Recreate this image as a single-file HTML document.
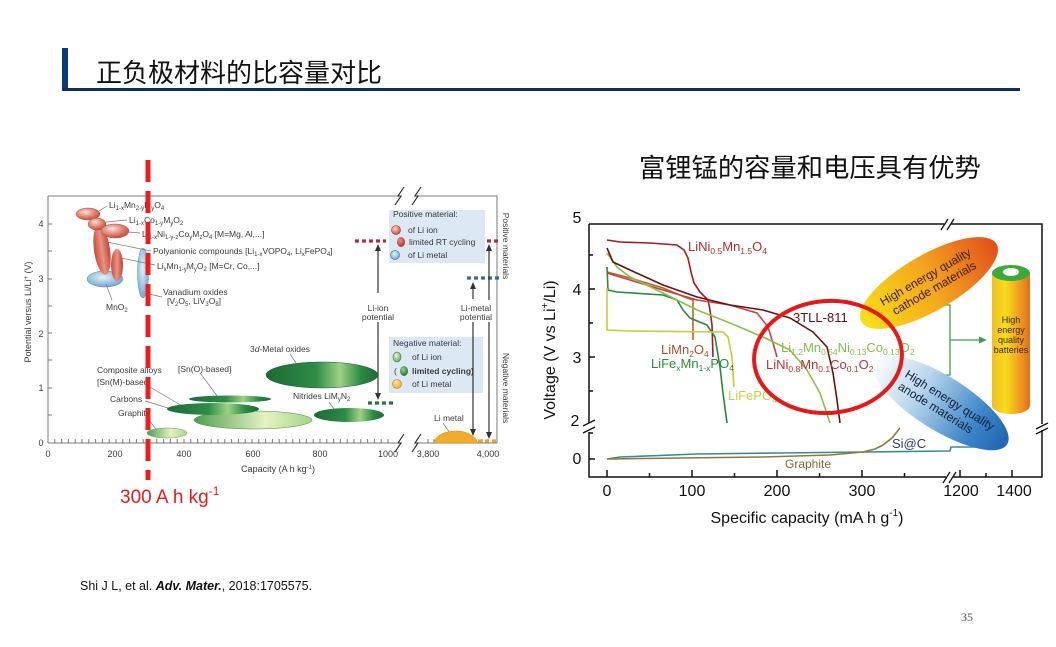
<!DOCTYPE html>
<html><head><meta charset="utf-8">
<style>
html,body{margin:0;padding:0;background:#fff;}
svg{display:block;}
.lt{font-size:8.5px;fill:#3a3a3a;}
.s{font-size:6px;}
.S{font-size:8.5px;}
.cj{font-family:"Liberation Sans","Noto Sans CJK SC",sans-serif;}
</style></head>
<body>
<svg width="1056" height="647" viewBox="0 0 1056 647" xmlns="http://www.w3.org/2000/svg" font-family="Liberation Sans, sans-serif">
<defs>
<radialGradient id="gR" cx="0.4" cy="0.35" r="0.7"><stop offset="0" stop-color="#fbe3dc"/><stop offset="0.5" stop-color="#e58a78"/><stop offset="1" stop-color="#c0443a"/></radialGradient>
<linearGradient id="gRt" x1="0" x2="1"><stop offset="0" stop-color="#c84a3e"/><stop offset="0.5" stop-color="#ea937f"/><stop offset="1" stop-color="#c0443a"/></linearGradient>
<radialGradient id="gB" cx="0.45" cy="0.4" r="0.7"><stop offset="0" stop-color="#e6f3fb"/><stop offset="1" stop-color="#5d9ccb"/></radialGradient>
<linearGradient id="gG" x1="0" x2="1"><stop offset="0" stop-color="#1c6b35"/><stop offset="0.45" stop-color="#2e8c48"/><stop offset="0.66" stop-color="#9fd185"/><stop offset="0.85" stop-color="#2a8a44"/><stop offset="1" stop-color="#1c6b35"/></linearGradient>
<linearGradient id="gL" x1="0" x2="1"><stop offset="0" stop-color="#4d9e50"/><stop offset="0.6" stop-color="#e4f2c0"/><stop offset="1" stop-color="#a8d48a"/></linearGradient>
<linearGradient id="gC" x1="0" x2="1"><stop offset="0" stop-color="#f8e016"/><stop offset="0.5" stop-color="#f4a81e"/><stop offset="1" stop-color="#e2501c"/></linearGradient>
<linearGradient id="gA" x1="0" x2="1"><stop offset="0" stop-color="#ffffff"/><stop offset="0.35" stop-color="#b8d4ec"/><stop offset="0.75" stop-color="#3d86c8"/><stop offset="1" stop-color="#1d66b0"/></linearGradient>
<linearGradient id="gBat" x1="0" x2="1"><stop offset="0" stop-color="#f0c020"/><stop offset="0.35" stop-color="#f8dc1c"/><stop offset="0.7" stop-color="#f0a020"/><stop offset="1" stop-color="#e0701c"/></linearGradient>
<radialGradient id="gO" cx="0.4" cy="0.35" r="0.7"><stop offset="0" stop-color="#fde6a0"/><stop offset="1" stop-color="#f0a428"/></radialGradient>
<radialGradient id="gGL" cx="0.4" cy="0.35" r="0.7"><stop offset="0" stop-color="#eef8d8"/><stop offset="1" stop-color="#5aa84a"/></radialGradient>
<radialGradient id="gGD" cx="0.4" cy="0.35" r="0.7"><stop offset="0" stop-color="#9fd185"/><stop offset="1" stop-color="#1c6b35"/></radialGradient>
<radialGradient id="gRD" cx="0.4" cy="0.35" r="0.7"><stop offset="0" stop-color="#f08a7a"/><stop offset="1" stop-color="#b82a22"/></radialGradient>
</defs>

<!-- Header -->
<rect x="62" y="48" width="6" height="43" fill="#0e3a73"/>
<rect x="62" y="88" width="958" height="3" fill="#0e2f60"/>
<text x="96" y="82" font-size="26" class="cj" fill="#111">正负极材料的比容量对比</text>
<text x="639" y="177" font-size="26.3" class="cj" fill="#111">富锂锰的容量和电压具有优势</text>

<!-- ================= LEFT CHART ================= -->
<g stroke="#7a7a7a" fill="none" stroke-width="1">
<path d="M48,196 V443 M48,196 H398 M418,196 H497 V443 M48,443 H397 M419,443 H497"/>
<path d="M48,443v-4m6.8,4v-4m6.8,4v-4m6.8,4v-4m6.8,4v-4m6.8,4v-4m6.8,4v-4m6.8,4v-4m6.8,4v-4m6.8,4v-4m6.8,4v-4m6.8,4v-4m6.8,4v-4m6.8,4v-4m6.8,4v-4m6.8,4v-4m6.8,4v-4m6.8,4v-4m6.8,4v-4m6.8,4v-4m6.8,4v-4m6.8,4v-4m6.8,4v-4m6.8,4v-4m6.8,4v-4m6.8,4v-4m6.8,4v-4m6.8,4v-4m6.8,4v-4m6.8,4v-4m6.8,4v-4m6.8,4v-4m6.8,4v-4m6.8,4v-4m6.8,4v-4m6.8,4v-4m6.8,4v-4m6.8,4v-4m6.8,4v-4m6.8,4v-4m6.8,4v-4m6.8,4v-4m6.8,4v-4m6.8,4v-4m6.8,4v-4m6.8,4v-4m6.8,4v-4m6.8,4v-4m6.8,4v-4m6.8,4v-4m6.8,4v-4"/>
<path d="M428,443v-4m6,4v-4m6,4v-4m6,4v-4m6,4v-4m6,4v-4m6,4v-4m6,4v-4m6,4v-4m6,4v-4m6,4v-4"/>
<path d="M48,415h4M48,388h4M48,360h4M48,333h4M48,306h4M48,279h4M48,251h4M48,224h4"/>
</g>
<!-- breaks -->
<g stroke="#222" fill="none" stroke-width="1.1">
<path d="M395,205 L401,196 L398,196 L404,187"/>
<path d="M412,205 L418,196 L415,196 L421,187"/>
<path d="M395,452 L401,443 L398,443 L404,434"/>
<path d="M412,452 L418,443 L415,443 L421,434"/>
</g>
<!-- axis labels -->
<g class="lt" font-size="9" text-anchor="middle" fill="#333">
<text x="41" y="227" style="font-size:9px">4</text>
<text x="41" y="282" style="font-size:9px">3</text>
<text x="41" y="337" style="font-size:9px">2</text>
<text x="41" y="391" style="font-size:9px">1</text>
<text x="41" y="446" style="font-size:9px">0</text>
<text x="48" y="457" style="font-size:9px">0</text>
<text x="115" y="457" style="font-size:9px">200</text>
<text x="184" y="457" style="font-size:9px">400</text>
<text x="253" y="457" style="font-size:9px">600</text>
<text x="320" y="457" style="font-size:9px">800</text>
<text x="388" y="457" style="font-size:9px">1000</text>
<text x="428" y="457" style="font-size:9px">3,800</text>
<text x="488" y="457" style="font-size:9px">4,000</text>
<text x="278" y="472" style="font-size:9px">Capacity  (A h kg<tspan class="s" dy="-3">-1</tspan><tspan dy="3">)</tspan></text>
<text transform="translate(31,312) rotate(-90)" style="font-size:9px">Potential versus Li/Li<tspan class="s" dy="-3">+</tspan><tspan dy="3"> (V)</tspan></text>
<text transform="translate(503,246) rotate(90)" style="font-size:8.5px">Positive materials</text>
<text transform="translate(503,388) rotate(90)" style="font-size:8.5px">Negative materials</text>
</g>

<!-- boxes -->
<rect x="389" y="210" width="96" height="53" fill="#dce8f4"/>
<rect x="389" y="337" width="94" height="56" fill="#dce8f4"/>
<g class="lt">
<text x="393" y="217">Positive material:</text>
<text x="408" y="233">of Li ion</text>
<text x="409" y="245">limited RT cycling</text>
<text x="408" y="258">of Li metal</text>
<text x="393" y="346">Negative material:</text>
<text x="412" y="360">of Li ion</text>
<text x="394" y="374">(</text>
<text x="412" y="374" font-weight="bold">limited cycling)</text>
<text x="412" y="387">of Li metal</text>
</g>
<circle cx="396" cy="230" r="4.5" fill="url(#gR)" stroke="#a03020" stroke-width="0.6"/>
<ellipse cx="401" cy="242" rx="4" ry="5" fill="url(#gRD)"/>
<circle cx="395" cy="255" r="4.5" fill="url(#gB)" stroke="#3a6a9a" stroke-width="0.6"/>
<ellipse cx="397" cy="357" rx="4" ry="5" fill="url(#gGL)" stroke="#3a7a3a" stroke-width="0.6"/>
<ellipse cx="404" cy="371" rx="4" ry="5" fill="url(#gGD)"/>
<circle cx="397" cy="384" r="4.5" fill="url(#gO)" stroke="#c08020" stroke-width="0.6"/>

<!-- dotted potentials -->
<g stroke-width="3.2" stroke-dasharray="4,3" fill="none">
<path d="M355,241 H386" stroke="#b0303a"/>
<path d="M487,241 H500" stroke="#b0303a"/>
<path d="M467,278 H499" stroke="#3a6a8a"/>
<path d="M368,403 H396" stroke="#1f7a3a"/>
<path d="M478,441 H497" stroke="#f0a030"/>
</g>
<!-- arrows -->
<g stroke="#333" stroke-width="1.2" fill="none">
<path d="M378,293 V249"/><path d="M378,322 V395"/>
<path d="M473,299 V287"/><path d="M473,322 V431"/>
<path d="M489,300 V249"/><path d="M489,322 V434"/>
</g>
<g fill="#333">
<path d="M378,244 l-3,7 h6 z"/><path d="M378,400 l-3,-7 h6 z"/>
<path d="M473,282 l-3,7 h6 z"/><path d="M473,436 l-3,-7 h6 z"/>
<path d="M489,244 l-3,7 h6 z"/><path d="M489,439 l-3,-7 h6 z"/>
</g>
<g class="lt" text-anchor="middle">
<text x="378" y="311">Li-ion</text><text x="378" y="320">potential</text>
<text x="476" y="311">Li-metal</text><text x="476" y="320">potential</text>
</g>

<!-- positive materials ellipses -->
<ellipse cx="105" cy="279" rx="18" ry="8" fill="url(#gB)" stroke="#5a8ab0" stroke-width="0.5"/>
<ellipse cx="102" cy="250" rx="8" ry="25" transform="rotate(-8 102 250)" fill="url(#gRt)"/>
<ellipse cx="117" cy="265" rx="6" ry="16" fill="url(#gRt)"/>
<ellipse cx="143" cy="273" rx="5.5" ry="25" fill="url(#gB)" stroke="#5a8ab0" stroke-width="0.5"/>
<ellipse cx="88" cy="214" rx="12" ry="6" fill="url(#gR)" stroke="#b05040" stroke-width="0.5"/>
<ellipse cx="97" cy="224" rx="9" ry="6" fill="url(#gR)" stroke="#b05040" stroke-width="0.5"/>
<ellipse cx="115" cy="231" rx="14" ry="7" fill="url(#gR)" stroke="#b05040" stroke-width="0.5"/>
<g stroke="#777" stroke-width="0.7" fill="none">
<path d="M99,211 L107,206"/><path d="M106,222 L127,220"/><path d="M128,232 L140,233"/>
<path d="M107,242 L151,251"/><path d="M121,258 L155,265"/><path d="M145,293 L162,297"/>
<path d="M106,284 L112,300"/>
<path d="M290,354 L296,363"/><path d="M200,373 L218,397"/><path d="M148,386 L196,414"/>
<path d="M145,401 L168,408"/><path d="M146,416 L158,432"/><path d="M329,402 L334,409"/>
<path d="M443,423 L452,436"/>
</g>
<g class="lt">
<text x="109" y="208">Li<tspan class="s" dy="2">1-x</tspan><tspan dy="-2">Mn</tspan><tspan class="s" dy="2">2-y</tspan><tspan dy="-2">M</tspan><tspan class="s" dy="2">y</tspan><tspan dy="-2">O</tspan><tspan class="s" dy="2">4</tspan></text>
<text x="129" y="223">Li<tspan class="s" dy="2">1-x</tspan><tspan dy="-2">Co</tspan><tspan class="s" dy="2">1-y</tspan><tspan dy="-2">M</tspan><tspan class="s" dy="2">y</tspan><tspan dy="-2">O</tspan><tspan class="s" dy="2">2</tspan></text>
<text x="142" y="237">Li<tspan class="s" dy="2">1-x</tspan><tspan dy="-2">Ni</tspan><tspan class="s" dy="2">1-y-z</tspan><tspan dy="-2">Co</tspan><tspan class="s" dy="2">y</tspan><tspan dy="-2">M</tspan><tspan class="s" dy="2">z</tspan><tspan dy="-2">O</tspan><tspan class="s" dy="2">4</tspan><tspan dy="-2"> [M=Mg, Al,...]</tspan></text>
<text x="153" y="254">Polyanionic compounds [Li<tspan class="s" dy="2">1-x</tspan><tspan dy="-2">VOPO</tspan><tspan class="s" dy="2">4</tspan><tspan dy="-2">, Li</tspan><tspan class="s" dy="2">x</tspan><tspan dy="-2">FePO</tspan><tspan class="s" dy="2">4</tspan><tspan dy="-2">]</tspan></text>
<text x="157" y="269">Li<tspan class="s" dy="2">x</tspan><tspan dy="-2">Mn</tspan><tspan class="s" dy="2">1-y</tspan><tspan dy="-2">M</tspan><tspan class="s" dy="2">y</tspan><tspan dy="-2">O</tspan><tspan class="s" dy="2">2</tspan><tspan dy="-2">  [M=Cr, Co,...]</tspan></text>
<text x="163" y="295">Vanadium oxides</text>
<text x="167" y="304">[V<tspan class="s" dy="2">2</tspan><tspan dy="-2">O</tspan><tspan class="s" dy="2">5</tspan><tspan dy="-2">, LiV</tspan><tspan class="s" dy="2">3</tspan><tspan dy="-2">O</tspan><tspan class="s" dy="2">8</tspan><tspan dy="-2">]</tspan></text>
<text x="106" y="310">MnO<tspan class="s" dy="2">2</tspan></text>
<text x="250" y="352">3<tspan font-style="italic">d</tspan>-Metal oxides</text>
<text x="178" y="372">[Sn(O)-based]</text>
<text x="97" y="373">Composite alloys</text>
<text x="97" y="385">[Sn(M)-based]</text>
<text x="110" y="402">Carbons</text>
<text x="118" y="416">Graphite</text>
<text x="293" y="399">Nitrides LiM<tspan class="s" dy="2">y</tspan><tspan dy="-2">N</tspan><tspan class="s" dy="2">2</tspan></text>
<text x="434" y="421">Li metal</text>
</g>
<!-- negative ellipses -->
<ellipse cx="322" cy="375" rx="56" ry="13" fill="url(#gG)" stroke="#1a5a2a" stroke-width="0.5"/>
<ellipse cx="253" cy="420" rx="59" ry="9" fill="url(#gL)" stroke="#4a8a4a" stroke-width="0.5"/>
<ellipse cx="230" cy="399" rx="41" ry="3.5" fill="url(#gG)"/>
<ellipse cx="213" cy="409" rx="46" ry="6" fill="url(#gG)"/>
<ellipse cx="167" cy="433" rx="20" ry="5" fill="url(#gL)" stroke="#6a9a5a" stroke-width="0.5"/>
<ellipse cx="349" cy="415" rx="35" ry="7" fill="url(#gG)"/>
<path d="M434,443 C436,432 452,431 457,431 C466,431 476,436 478,443 Z" fill="#f2ac2c" stroke="#c88a20" stroke-width="0.5"/>

<!-- red dashed 300 line -->
<path d="M148,160 V480" stroke="#ee1c1c" stroke-width="5" stroke-dasharray="22,9" fill="none"/>
<text x="120" y="503" font-size="19" fill="#e51c1c">300 A h kg<tspan font-size="12" dy="-8">-1</tspan></text>

<!-- ================= RIGHT CHART ================= -->
<!-- curves -->
<g fill="none" stroke-width="1.6" stroke-linejoin="round">
<polyline stroke="#a51c1c" points="607,240 620,242 650,243 677,245 684,250 688,258 691,272 694,283 700,292 705,297 708,300 710,310 712,325 713,357"/>
<polyline stroke="#b5652b" points="607,272 630,278 663,288 687,298 693,300 693,340"/>
<polyline stroke="#c84040" points="607,273 630,280 663,290 697,300 730,305 757,313 768,327 773,343 777,357"/>
<polyline stroke="#2a8a3a" points="607,267 608,290 617,292 663,295 677,300 683,310 690,318 707,325 715,337 720,367 723,393 727,423"/>
<polyline stroke="#c3cf3a" points="607,288 607,330 630,331 723,332 728,337 732,357 734,387"/>
<polyline stroke="#8cbf4a" points="607,253 617,267 630,277 663,293 697,310 730,323 763,337 790,350 807,370 820,393 830,423"/>
<polyline stroke="#6a1010" points="607,248 613,262 630,270 663,285 697,297 730,305 763,310 790,318 813,332 827,347 833,373 837,400 840,423"/>
<polyline stroke="#3a8a9a" points="607,459 620,457 697,454 780,453 863,452 950,451 951,447 985,447"/>
<polyline stroke="#8b7a3a" points="607,459 680,458 763,457 830,455 863,452 875,449 883,445 892,438 900,428"/>
</g>
<!-- labels -->
<g font-size="13">
<text x="688" y="251" fill="#a83030">LiNi<tspan class="S" dy="3">0.5</tspan><tspan dy="-3">Mn</tspan><tspan class="S" dy="3">1.5</tspan><tspan dy="-3">O</tspan><tspan class="S" dy="3">4</tspan></text>
<text x="661" y="354" fill="#a0522d">LiMn<tspan class="S" dy="3">2</tspan><tspan dy="-3">O</tspan><tspan class="S" dy="3">4</tspan></text>
<text x="651" y="368" fill="#2e8b3e">LiFe<tspan class="S" dy="3">x</tspan><tspan dy="-3">Mn</tspan><tspan class="S" dy="3">1-x</tspan><tspan dy="-3">PO</tspan><tspan class="S" dy="3">4</tspan></text>
<text x="728" y="400" fill="#c8d040">LiFePO<tspan class="S" dy="3">4</tspan></text>
<text x="793" y="322" fill="#5a1010">3TLL-811</text>
<text x="781" y="352" fill="#86bb4a">Li<tspan class="S" dy="3">1.2</tspan><tspan dy="-3">Mn</tspan><tspan class="S" dy="3">0.54</tspan><tspan dy="-3">Ni</tspan><tspan class="S" dy="3">0.13</tspan><tspan dy="-3">Co</tspan><tspan class="S" dy="3">0.13</tspan><tspan dy="-3">O</tspan><tspan class="S" dy="3">2</tspan></text>
<text x="766" y="369" fill="#c03030">LiNi<tspan class="S" dy="3">0.8</tspan><tspan dy="-3">Mn</tspan><tspan class="S" dy="3">0.1</tspan><tspan dy="-3">Co</tspan><tspan class="S" dy="3">0.1</tspan><tspan dy="-3">O</tspan><tspan class="S" dy="3">2</tspan></text>
<text x="785" y="468" fill="#7a6a30" font-size="12">Graphite</text>
<text x="892" y="448" fill="#2a3a6a">Si@C</text>
</g>

<!-- bracket & arrow -->
<g stroke="#3aa04a" stroke-width="1.3" fill="none">
<path d="M938,305 H950 V375 H938"/>
<path d="M950,340 H980"/>
</g>
<path d="M987,340 l-8,-3.5 v7 z" fill="#3aa04a"/>

<!-- cathode ellipse -->
<g transform="translate(929,283) rotate(-30)">
<ellipse cx="0" cy="0" rx="78" ry="28" fill="url(#gC)"/>
<text x="0" y="-3" font-size="12" text-anchor="middle" fill="#3a2000">High energy quality</text>
<text x="2" y="11" font-size="12" text-anchor="middle" fill="#3a2000">cathode materials</text>
</g>
<!-- anode ellipse -->
<g transform="translate(941,403) rotate(32)">
<ellipse cx="0" cy="0" rx="78" ry="27" fill="url(#gA)"/>
<text x="6" y="-3" font-size="12" text-anchor="middle" fill="#102040">High energy quality</text>
<text x="-2" y="11" font-size="12" text-anchor="middle" fill="#102040">anode materials</text>
</g>
<!-- battery -->
<rect x="992" y="273" width="38" height="133" fill="url(#gBat)"/>
<ellipse cx="1011" cy="406" rx="19" ry="8" fill="url(#gBat)"/>
<ellipse cx="1011" cy="273" rx="19" ry="8" fill="#3aaa3a"/>
<ellipse cx="1011" cy="272" rx="8" ry="4" fill="#fff"/>
<g font-size="9" text-anchor="middle" fill="#3a2a00">
<text x="1011" y="323">High</text>
<text x="1011" y="333">energy</text>
<text x="1011" y="343">quality</text>
<text x="1011" y="353">batteries</text>
</g>

<!-- red circle -->
<ellipse cx="828" cy="357" rx="74" ry="56" transform="rotate(-4 828 357)" fill="none" stroke="#e61919" stroke-width="4"/>

<!-- axes -->
<g stroke="#111" stroke-width="1.5" fill="none">
<path d="M589,224 V423 M589,432 V477 H946 M953,477 H1042 V430 M1042,424 V224 H951 M944,224 H589"/>
<path d="M589,255h4M589,289h6M589,323h4M589,357h6M589,391h4M589,433h4M589,459h6"/>
<path d="M607,477v-7M649.5,477v-4M692,477v-7M734.5,477v-4M777,477v-7M819.5,477v-4M862,477v-7M904.5,477v-4M960,477v-7M986,477v-4M1012,477v-7"/>
</g>
<g stroke="#111" stroke-width="1.3" fill="none">
<path d="M583,426 L595,420 M583,433 L595,427"/>
<path d="M1036,429 L1048,423 M1036,434 L1048,428"/>
<path d="M941,230 L948,219 M947,230 L954,219"/>
<path d="M943,483 L950,472 M949,483 L956,472"/>
</g>
<g font-size="16" fill="#111" text-anchor="middle">
<text x="577" y="223">5</text>
<text x="577" y="295">4</text>
<text x="577" y="363">3</text>
<text x="575" y="426">2</text>
<text x="577" y="464">0</text>
<text x="607" y="496">0</text>
<text x="692" y="496">100</text>
<text x="777" y="496">200</text>
<text x="862" y="496">300</text>
<text x="961" y="496">1200</text>
<text x="1014" y="496">1400</text>
<text x="807" y="523">Specific capacity (mA h g<tspan font-size="10" dy="-7">-1</tspan><tspan dy="7">)</tspan></text>
<text transform="translate(555,350) rotate(-90)">Voltage (V vs Li<tspan font-size="10" dy="-7">+</tspan><tspan dy="7">/Li)</tspan></text>
</g>

<!-- footer -->
<text x="80" y="590" font-size="12.5" fill="#111">Shi J L, et al. <tspan font-weight="bold" font-style="italic">Adv. Mater.</tspan>, 2018:1705575.</text>
<text x="961" y="621" font-size="12" fill="#555" font-family="Liberation Serif, serif">35</text>
</svg>
</body></html>
